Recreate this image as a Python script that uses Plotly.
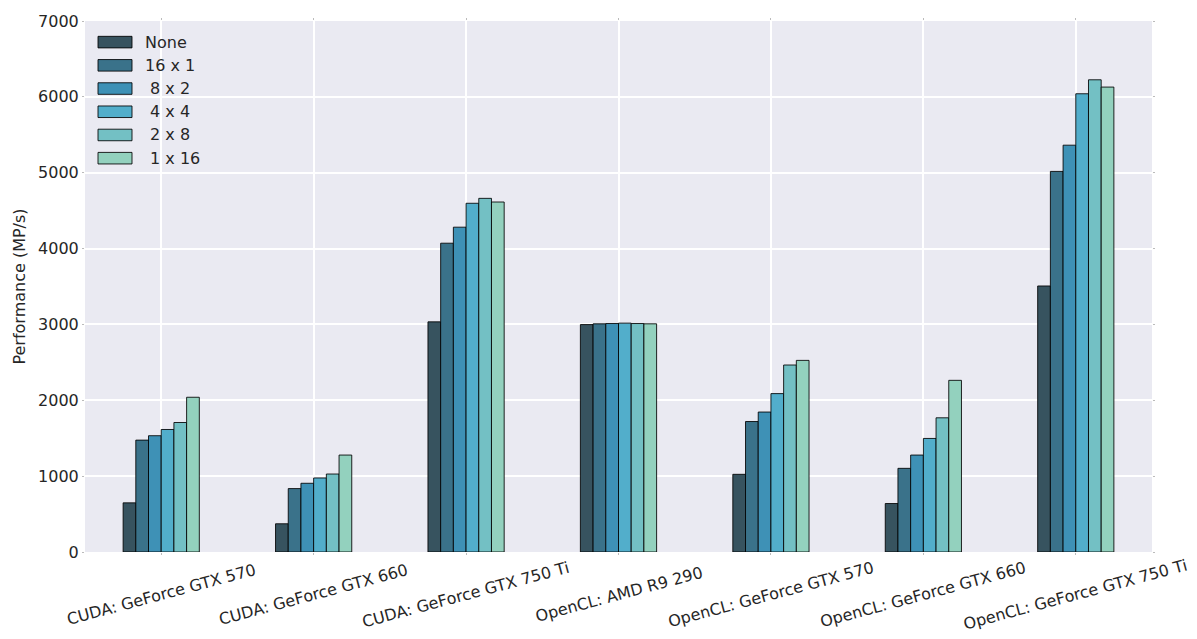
import plotly.graph_objects as go

# Benchmark devices (x categories)
devices = [
    "CUDA: GeForce GTX 570",
    "CUDA: GeForce GTX 660",
    "CUDA: GeForce GTX 750 Ti",
    "OpenCL: AMD R9 290",
    "OpenCL: GeForce GTX 570",
    "OpenCL: GeForce GTX 660",
    "OpenCL: GeForce GTX 750 Ti",
]

# Performance in MP/s per work-group configuration
perf_none = [648, 372, 3034, 2998, 1024, 639, 3507]
perf_16x1 = [1475, 836, 4071, 3008, 1720, 1103, 5017]
perf_8x2 = [1533, 906, 4282, 3012, 1845, 1278, 5363]
perf_4x4 = [1615, 976, 4597, 3017, 2088, 1497, 6041]
perf_2x8 = [1707, 1028, 4662, 3012, 2465, 1769, 6225]
perf_1x16 = [2040, 1278, 4614, 3008, 2526, 2263, 6129]

series_names = ["None", "16 x 1", "\u00a08 x 2", "\u00a04 x 4", "\u00a02 x 8", "\u00a01 x 16"]
series_values = [perf_none, perf_16x1, perf_8x2, perf_4x4, perf_2x8, perf_1x16]
series_colors = ["#37535f", "#3a728a", "#3e91b6", "#52aecb", "#73c0c4", "#93d1be"]

FONT = "DejaVu Sans"
TEXT = "#262626"
EDGE = "rgba(0,0,0,0.85)"

W, H = 1197, 639
ML, MR, MT, MB = 85, 45, 19, 87
PW, PH = W - ML - MR, H - MT - MB


def px_to_paper(px, py):
    return (px - ML) / PW, (H - MB - py) / PH


fig = go.Figure()
for name, vals, col in zip(series_names, series_values, series_colors):
    fig.add_trace(go.Bar(
        x=devices, y=vals, name=name, showlegend=False,
        marker=dict(color=col, line=dict(color=EDGE, width=1)),
    ))

# Legend: wide colour patches with labels, upper-left corner
for i, (name, col) in enumerate(zip(series_names, series_colors)):
    cy = 40.2 + i * 23.3
    x0, y0 = px_to_paper(98, cy + 5.8)
    x1, y1 = px_to_paper(132, cy - 5.8)
    fig.add_shape(type="rect", xref="paper", yref="paper", x0=x0, y0=y0, x1=x1, y1=y1,
                  fillcolor=col, line=dict(color=EDGE, width=1))
    tx, ty = px_to_paper(143, cy)
    fig.add_annotation(x=tx, y=ty, xref="paper", yref="paper", text=name, showarrow=False,
                       xanchor="left", yanchor="middle",
                       font=dict(family=FONT, size=16, color=TEXT))

# Rotated, centred category labels
for d in devices:
    fig.add_annotation(
        x=d, y=-0.0807, xref="x", yref="paper", text=d, showarrow=False,
        textangle=-15, xanchor="center", yanchor="middle",
        font=dict(family=FONT, size=16, color=TEXT),
    )

fig.update_layout(
    width=W, height=H,
    margin=dict(l=ML, r=MR, t=MT, b=MB),
    paper_bgcolor="white", plot_bgcolor="#EAEAF2",
    barmode="group", bargap=0.5, bargroupgap=0,
    font=dict(family=FONT, size=16, color=TEXT),
    showlegend=False,
    xaxis=dict(
        range=[-0.5, 6.5], showgrid=True, gridcolor="white", gridwidth=1.5,
        showticklabels=False, ticks="outside", ticklen=2, tickcolor="#bbbbbb",
        zeroline=False, showline=False, mirror="ticks",
    ),
    yaxis=dict(
        range=[0, 7000], dtick=1000, showgrid=True, gridcolor="white", gridwidth=1.5,
        ticks="outside", ticklen=2, tickcolor="#bbbbbb", zeroline=False, showline=False,
        mirror="ticks",
        title=dict(text="Performance (MP/s)", font=dict(family=FONT, size=16, color=TEXT), standoff=8),
        tickfont=dict(family=FONT, size=16, color=TEXT),
    ),
)

fig.write_html("out.html")
